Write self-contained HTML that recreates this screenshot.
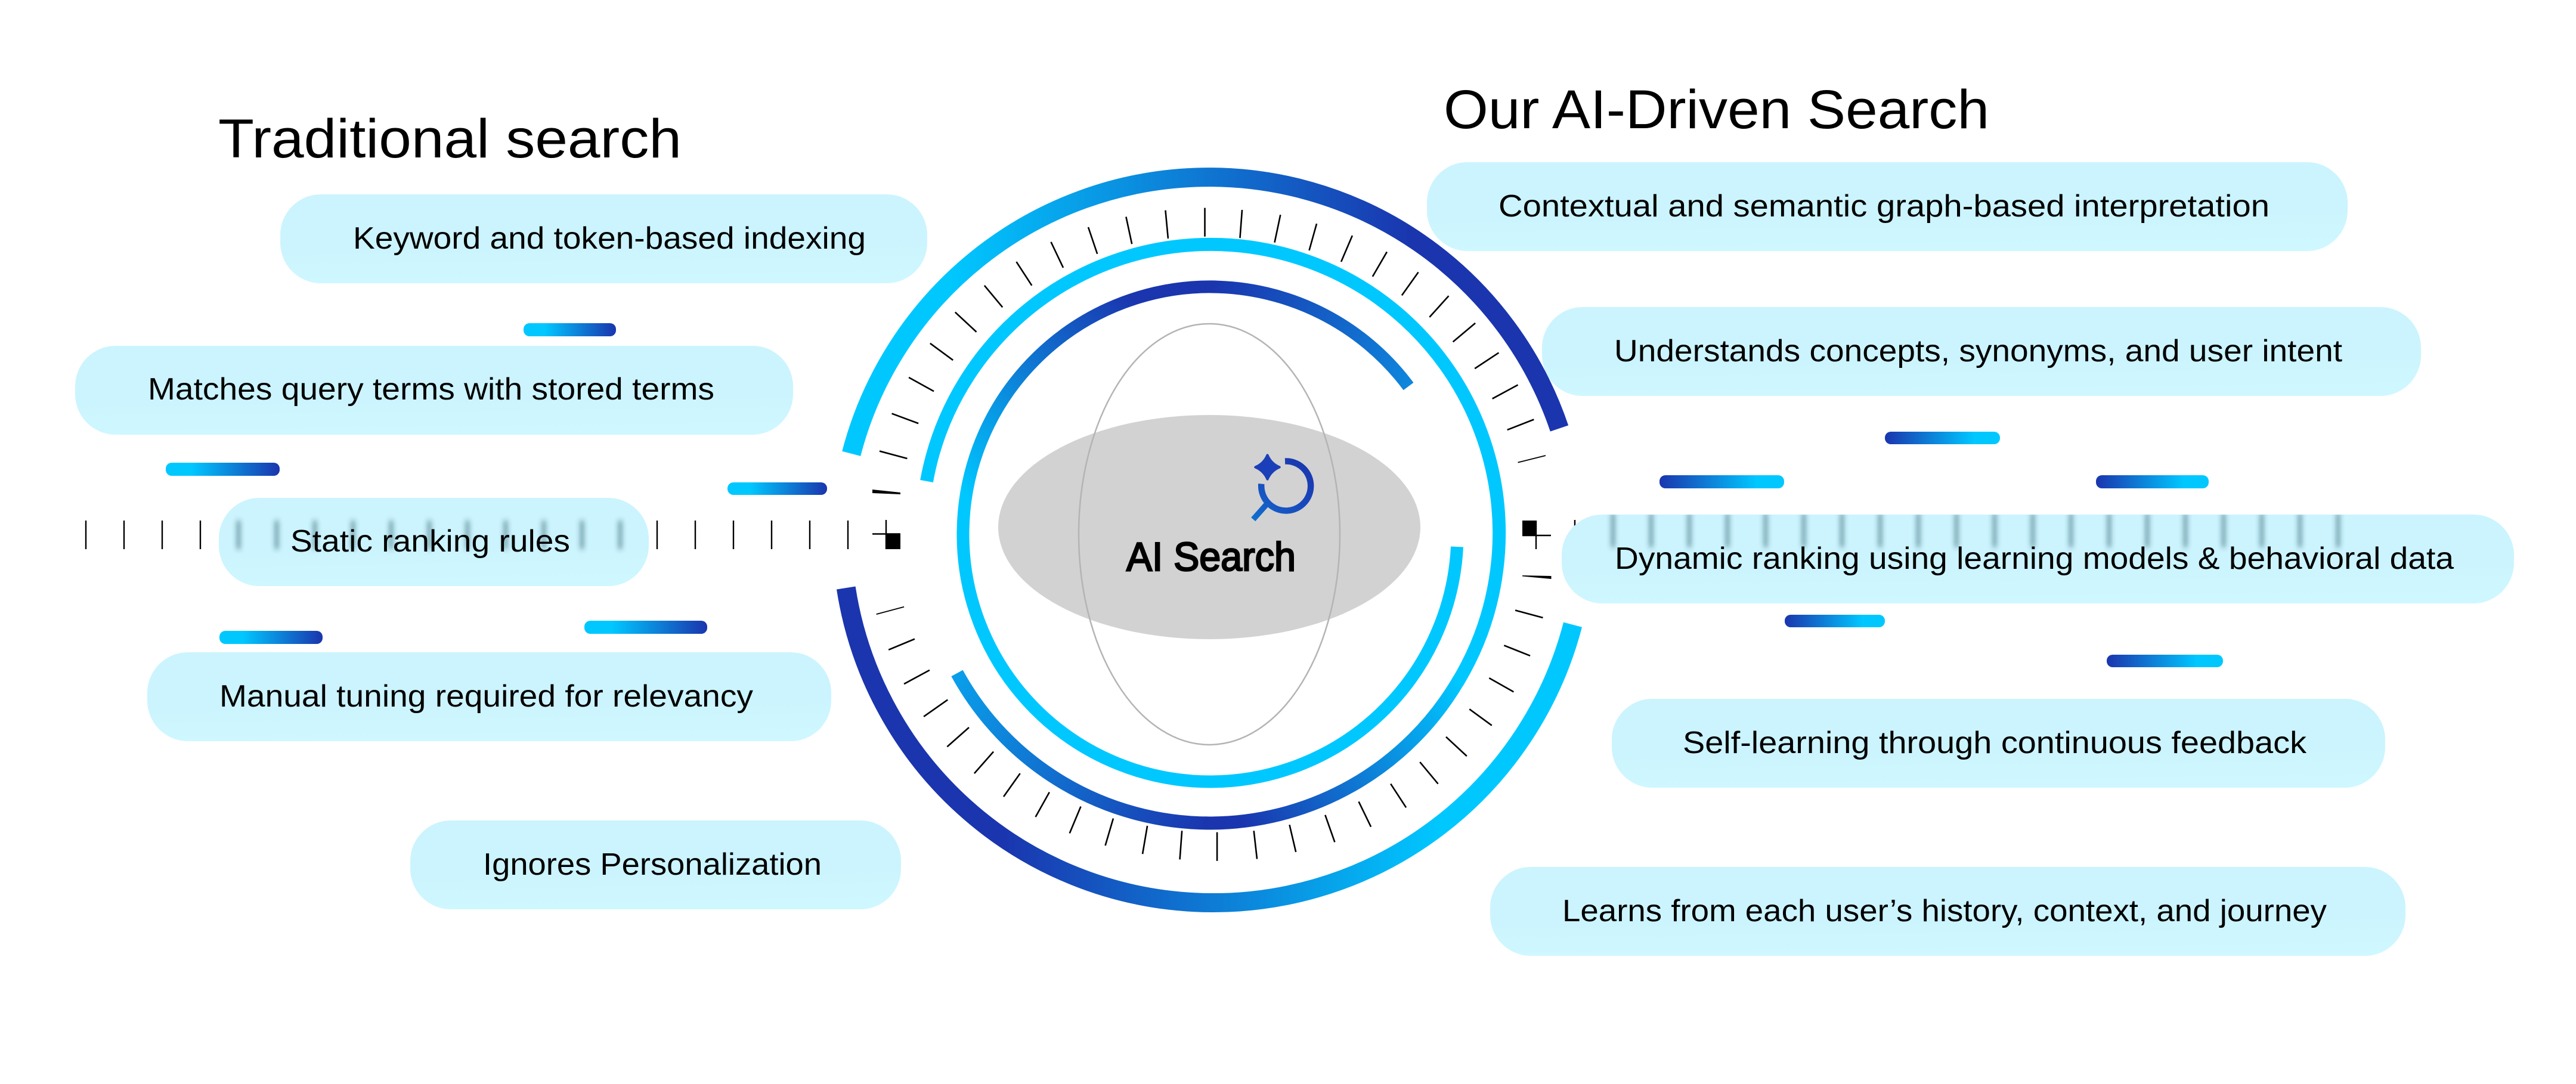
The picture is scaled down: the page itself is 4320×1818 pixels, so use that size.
<!DOCTYPE html>
<html><head><meta charset="utf-8"><title>AI Search</title>
<style>html,body{margin:0;padding:0;background:#fff}svg{display:block}text{font-family:"Liberation Sans",sans-serif;fill:#000}</style></head>
<body>
<svg xmlns="http://www.w3.org/2000/svg" width="4320" height="1818" viewBox="0 0 4320 1818">
<defs>
<linearGradient id="pill" x1="0" y1="0" x2="0.1" y2="1"><stop offset="0.6" stop-color="#CBF4FE"/><stop offset="1" stop-color="#CFF7FF"/></linearGradient>
<linearGradient id="barL" x1="0" x2="1" y1="0" y2="0"><stop offset="0.22" stop-color="#00C8FF"/><stop offset="1" stop-color="#1A35AE"/></linearGradient>
<linearGradient id="barR" x1="0" x2="1" y1="0" y2="0"><stop offset="0" stop-color="#1A35AE"/><stop offset="0.78" stop-color="#00C8FF"/></linearGradient>
<linearGradient id="oTop" gradientUnits="userSpaceOnUse" x1="1590" y1="0" x2="2370" y2="0"><stop offset="0" stop-color="#00C8FF"/><stop offset="1" stop-color="#1A35AE"/></linearGradient>
<linearGradient id="oBot" gradientUnits="userSpaceOnUse" x1="1680" y1="0" x2="2420" y2="0"><stop offset="0" stop-color="#1A35AE"/><stop offset="1" stop-color="#00C8FF"/></linearGradient>
<linearGradient id="c2" gradientUnits="userSpaceOnUse" x1="2447" y1="1138" x2="2080" y2="1380"><stop offset="0" stop-color="#00C8FF"/><stop offset="1" stop-color="#1A35AE"/></linearGradient>
<linearGradient id="c3" gradientUnits="userSpaceOnUse" x1="2028" y1="1380" x2="1605" y2="1129"><stop offset="0" stop-color="#1A35AE"/><stop offset="1" stop-color="#0A9FEA"/></linearGradient>
<linearGradient id="da" gradientUnits="userSpaceOnUse" x1="2362" y1="648" x2="2030" y2="482"><stop offset="0" stop-color="#0E86DC"/><stop offset="1" stop-color="#1A35AE"/></linearGradient>
<linearGradient id="db" gradientUnits="userSpaceOnUse" x1="1900" y1="500" x2="1614" y2="830"><stop offset="0" stop-color="#1A35AE"/><stop offset="1" stop-color="#00C8FF"/></linearGradient>
<linearGradient id="ic" gradientUnits="userSpaceOnUse" x1="2190" y1="770" x2="2100" y2="872"><stop offset="0" stop-color="#1A35AE"/><stop offset="0.6" stop-color="#1850C0"/><stop offset="1" stop-color="#0F70D0"/></linearGradient>
<filter id="bl" filterUnits="userSpaceOnUse" x="0" y="800" width="4320" height="200"><feGaussianBlur stdDeviation="4.500"/></filter>
<clipPath id="clipS"><rect x="367" y="835" width="721" height="148" rx="68" ry="68"/></clipPath>
<clipPath id="clipD"><rect x="2619" y="863" width="1597" height="149" rx="68" ry="68"/></clipPath>
</defs>
<rect width="4320" height="1818" fill="#fff"/>

<!-- titles -->
<text x="366" y="264" font-size="92" textLength="777" lengthAdjust="spacingAndGlyphs">Traditional search</text>
<text x="2421" y="215" font-size="92" textLength="915" lengthAdjust="spacingAndGlyphs">Our AI-Driven Search</text>

<!-- sharp horizontal ticks left -->
<g stroke="#000" stroke-width="2.4">
<path d="M144 873V921M208 873V921M272 873V921M336 873V921M1102 873V921M1166 873V921M1230 873V921M1294 873V921M1358 873V921M1422 873V921M1486 872V921M1463 895.500H1510M2576 873V921M2553 898H2601M2641 872V920" fill="none"/>
</g>
<rect x="1485" y="895" width="25" height="26" fill="#000"/>
<rect x="2553" y="873" width="24" height="25" fill="#000"/>
<polygon points="1463,821 1510,826 1510,829 1463,827" fill="#000"/>
<polygon points="2553,965 2601.500,966 2601.500,971 2553,966.500" fill="#000"/>

<!-- pills -->
<rect x="470" y="326" width="1085" height="149" rx="68" fill="url(#pill)"/>
<rect x="126" y="580" width="1204" height="149" rx="68" fill="url(#pill)"/>
<rect x="367" y="835" width="721" height="148" rx="68" fill="url(#pill)"/>
<rect x="247" y="1094" width="1147" height="149" rx="68" fill="url(#pill)"/>
<rect x="688" y="1376" width="823" height="149" rx="68" fill="url(#pill)"/>
<rect x="2393" y="272" width="1544" height="149" rx="68" fill="url(#pill)"/>
<rect x="2586" y="515" width="1474" height="149" rx="68" fill="url(#pill)"/>
<rect x="2619" y="863" width="1597" height="149" rx="68" fill="url(#pill)"/>
<rect x="2703" y="1172" width="1297" height="149" rx="68" fill="url(#pill)"/>
<rect x="2499" y="1454" width="1535" height="149" rx="68" fill="url(#pill)"/>

<!-- blurred ticks behind glass -->
<g clip-path="url(#clipS)"><g filter="url(#bl)" stroke="#003040" stroke-width="3">
<path d="M400 873V921M464 873V921M528 873V921M592 873V921M656 873V921M720 873V921M784 873V921M848 873V921M912 873V921M976 873V921M1040 873V921" fill="none"/></g></g>
<g clip-path="url(#clipD)"><g filter="url(#bl)" stroke="#003040" stroke-width="3">
<path d="M2705 860V918M2769 860V918M2833 860V918M2897 860V918M2961 860V918M3025 860V918M3089 860V918M3153 860V918M3217 860V918M3281 860V918M3345 860V918M3409 860V918M3473 860V918M3537 860V918M3601 860V918M3665 860V918M3729 860V918M3793 860V918M3857 860V918M3921 860V918" fill="none"/></g></g>

<!-- pill text -->
<g font-size="52">
<text x="592" y="417" textLength="860" lengthAdjust="spacingAndGlyphs">Keyword and token-based indexing</text>
<text x="248" y="670" textLength="950" lengthAdjust="spacingAndGlyphs">Matches query terms with stored terms</text>
<text x="487" y="925" textLength="469" lengthAdjust="spacingAndGlyphs">Static ranking rules</text>
<text x="368" y="1185" textLength="895" lengthAdjust="spacingAndGlyphs">Manual tuning required for relevancy</text>
<text x="810" y="1467" textLength="568" lengthAdjust="spacingAndGlyphs">Ignores Personalization</text>
<text x="2513" y="363" textLength="1293" lengthAdjust="spacingAndGlyphs">Contextual and semantic graph-based interpretation</text>
<text x="2707" y="606" textLength="1221" lengthAdjust="spacingAndGlyphs">Understands concepts, synonyms, and user intent</text>
<text x="2708" y="954" textLength="1407" lengthAdjust="spacingAndGlyphs">Dynamic ranking using learning models &amp; behavioral data</text>
<text x="2822" y="1263" textLength="1046" lengthAdjust="spacingAndGlyphs">Self-learning through continuous feedback</text>
<text x="2620" y="1545" textLength="1282" lengthAdjust="spacingAndGlyphs">Learns from each user’s history, context, and journey</text>
</g>

<!-- small bars -->
<rect x="878" y="542" width="155" height="22" rx="10" fill="url(#barL)"/>
<rect x="278" y="776" width="191" height="22" rx="10" fill="url(#barL)"/>
<rect x="1220" y="809" width="167" height="21" rx="10" fill="url(#barL)"/>
<rect x="368" y="1058" width="173" height="22" rx="10" fill="url(#barL)"/>
<rect x="980" y="1041" width="206" height="22" rx="10" fill="url(#barL)"/>
<rect x="3161" y="724" width="193" height="21" rx="10" fill="url(#barR)"/>
<rect x="2783" y="797" width="209" height="22" rx="10" fill="url(#barR)"/>
<rect x="3515" y="797" width="189" height="22" rx="10" fill="url(#barR)"/>
<rect x="2993" y="1031" width="168" height="21" rx="10" fill="url(#barR)"/>
<rect x="3533" y="1098" width="195" height="21" rx="10" fill="url(#barR)"/>

<!-- outer arcs -->
<path d="M1427.700 760.800A620 620 0 0 1 2615 718.500" fill="none" stroke="url(#oTop)" stroke-width="32"/>
<path d="M1418.800 986A623 623 0 0 0 2637.500 1047.700" fill="none" stroke="url(#oBot)" stroke-width="32"/>

<!-- ticks (coordinates in crop space) -->
<g transform="translate(1300,250) scale(0.89286,0.82908)" stroke="#000" stroke-width="2.6" fill="none">
<path vector-effect="non-scaling-stroke" d="M196 611L248 626M219 535L269 555M251 462L298 490M291 393L334 427M338 330L378 370M393 276L427 320M453 228L482 276M518 188L541 240M588 158L605 212M659 137L670 192M733 124L738 181M807 119L807 177M877 123L873 180M949 133L938 189M1017 151L1003 205M1084 175L1063 228M1149 208L1122 258M1208 249L1177 296M1265 297L1229 340M1315 352L1273 390M1359 412L1314 444M1395 477L1347 505M1425 547L1375 568M1390 933L1442 948M1369 1004L1418 1025M1341 1070L1387 1098M1304 1133L1346 1166M1260 1189L1299 1228M1211 1240L1245 1284M1156 1284L1185 1332M1096 1320L1119 1371M1033 1347L1051 1402M966 1367L978 1422M899 1379L905 1436M830 1382L830 1440M764 1379L760 1437M699 1369L690 1426M635 1354L620 1409M574 1330L553 1384M515 1301L489 1351M460 1263L429 1310M410 1219L374 1263M364 1170L323 1209M324 1114L279 1148M290 1054L242 1082M262 991L213 1013"/>
<path vector-effect="non-scaling-stroke" stroke-width="1.800" d="M1447 620L1395 634M242 926L190 941"/>
</g>

<!-- ring C -->
<path d="M1554 807A484 484 0 1 1 2443.400 1145.800" fill="none" stroke="#00C8FF" stroke-width="22"/>
<path d="M2028.500 1380.500A484 484 0 0 1 1605 1129" fill="none" stroke="url(#c3)" stroke-width="22"/>
<path d="M2447.600 1138.500A484 484 0 0 1 2020 1380.400" fill="none" stroke="url(#c2)" stroke-width="22"/>

<!-- ring D -->
<path d="M1615 890A415 415 0 0 0 2030 1311A415 415 0 0 0 2443.500 917" fill="none" stroke="#00C8FF" stroke-width="21"/>
<path d="M2040 481A415 415 0 0 0 1615 896" fill="none" stroke="url(#db)" stroke-width="21"/>
<path d="M2362 648A415 415 0 0 0 2030 481" fill="none" stroke="url(#da)" stroke-width="21"/>

<!-- centre -->
<ellipse cx="2028" cy="884" rx="354" ry="188" fill="#D2D2D2"/>
<ellipse cx="2028" cy="896" rx="219" ry="353" fill="none" stroke="#B4B4B4" stroke-width="2.500"/>
<text x="1889" y="957" font-size="68" stroke="#000" stroke-width="2.600" textLength="284" lengthAdjust="spacingAndGlyphs">AI Search</text>

<!-- icon -->
<path d="M2125.500 763.300Q2131.500 777.500 2145.700 783.500Q2131.500 789.500 2125.500 803.700Q2119.500 789.500 2105.300 783.500Q2119.500 777.500 2125.500 763.300Z" fill="#1A3FB8" stroke="#1A3FB8" stroke-width="4" stroke-linejoin="round"/>
<path d="M2155 773.500A41.500 41.500 0 1 1 2115.300 811.500" fill="none" stroke="url(#ic)" stroke-width="10.500"/>
<path d="M2123.300 846.700L2101.700 871" fill="none" stroke="url(#ic)" stroke-width="9.500"/>
</svg>
</body></html>
